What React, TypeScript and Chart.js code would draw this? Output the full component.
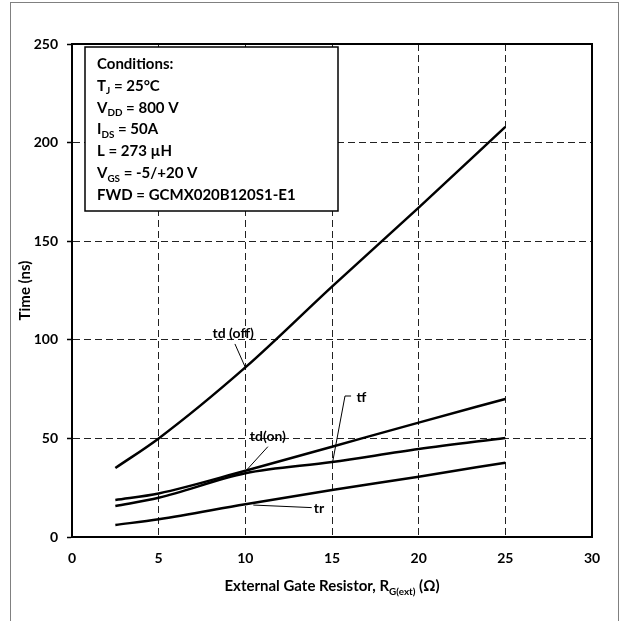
import React, { useEffect, useRef } from "react";
import { Chart, registerables } from "chart.js";

Chart.register(...registerables);

// ---- data ----
const rg = [2.5, 5, 10, 15, 20, 25];
const tdOff = [35, 50, 86, 127, 167, 208];
const tdOn = [18.8, 22.1, 33.6, 45.8, 58, 70];
const tf = [15.7, 19.9, 32.3, 38, 44.6, 50.2];
const tr = [6.1, 9, 16.6, 23.8, 30.6, 37.7];
const seriesNames = ["td (off)", "td(on)", "tf", "tr"];
const xTicks = [0, 5, 10, 15, 20, 25, 30];
const yTicks = [0, 50, 100, 150, 200, 250];

type Seg = { t: string; sub?: boolean };
const conditionLines: Seg[][] = [
  [{ t: "Conditions:" }],
  [{ t: "T" }, { t: "J", sub: true }, { t: " = 25°C" }],
  [{ t: "V" }, { t: "DD", sub: true }, { t: " = 800 V" }],
  [{ t: "I" }, { t: "DS", sub: true }, { t: " = 50A" }],
  [{ t: "L = 273 µH" }],
  [{ t: "V" }, { t: "GS", sub: true }, { t: " = -5/+20 V" }],
  [{ t: "FWD = GCMX020B120S1-E1" }],
];
const xTitle: Seg[] = [
  { t: "External Gate Resistor, R" },
  { t: "G(ext)", sub: true },
  { t: " (Ω)" },
];
const yTitle = "Time (ns)";

// annotation labels with leader lines, in data coordinates
const annotations = [
  { text: "td (off)", at: [9.3, 103], path: [[9.4, 97.9], [10.02, 85.6]] },
  { text: "td(on)", at: [11.3, 51.2], path: [[11.3, 45.8], [10.08, 34.0]] },
  { text: "tf", at: [16.7, 71], path: [[16.1, 71.5], [15.75, 71.5], [15.04, 38.2]] },
  { text: "tr", at: [14.25, 14.7], path: [[13.83, 14.9], [10.46, 16.2]] },
];

const FAMILY = "Lato, 'Liberation Sans', sans-serif";
const W = "bold";

function richWidth(ctx: CanvasRenderingContext2D, segs: Seg[], size: number) {
  let w = 0;
  for (const s of segs) {
    ctx.font = `${W} ${s.sub ? size * 0.66 : size}px ${FAMILY}`;
    w += ctx.measureText(s.t).width;
  }
  return w;
}
function drawRich(ctx: CanvasRenderingContext2D, x: number, y: number, segs: Seg[], size: number) {
  let cx = x;
  for (const s of segs) {
    const fs = s.sub ? size * 0.66 : size;
    ctx.font = `${W} ${fs}px ${FAMILY}`;
    ctx.fillText(s.t, cx, s.sub ? y + size * 0.24 : y);
    cx += ctx.measureText(s.t).width;
  }
}

const overlay = {
  id: "overlay",
  afterDraw(chart: any) {
    const ctx: CanvasRenderingContext2D = chart.ctx;
    const { left, top, right, bottom } = chart.chartArea;
    const xs = chart.scales.x;
    const ys = chart.scales.y;
    ctx.save();
    // plot frame
    ctx.strokeStyle = "#000";
    ctx.lineWidth = 2;
    ctx.setLineDash([]);
    ctx.strokeRect(left, top, right - left, bottom - top);

    // conditions box
    const bx = left + 13, by = top + 3, bw = 253, bh = 164;
    ctx.fillStyle = "#fff";
    ctx.fillRect(bx, by, bw, bh);
    ctx.lineWidth = 1.5;
    ctx.strokeRect(bx, by, bw, bh);
    ctx.fillStyle = "#000";
    ctx.textAlign = "left";
    ctx.textBaseline = "alphabetic";
    conditionLines.forEach((line, i) => {
      drawRich(ctx, bx + 12, by + 22 + i * 21.8, line, 15);
    });

    // annotations
    ctx.lineWidth = 1;
    ctx.strokeStyle = "#000";
    annotations.forEach((a) => {
      ctx.beginPath();
      a.path.forEach((p, i) => {
        const px = xs.getPixelForValue(p[0]);
        const py = ys.getPixelForValue(p[1]);
        if (i === 0) ctx.moveTo(px, py);
        else ctx.lineTo(px, py);
      });
      ctx.stroke();
      ctx.font = `${W} 14px ${FAMILY}`;
      ctx.textAlign = "center";
      ctx.textBaseline = "middle";
      ctx.fillText(a.text, xs.getPixelForValue(a.at[0]), ys.getPixelForValue(a.at[1]));
    });

    // axis titles
    ctx.textAlign = "left";
    ctx.textBaseline = "alphabetic";
    const tw = richWidth(ctx, xTitle, 15);
    drawRich(ctx, (left + right) / 2 - tw / 2, bottom + 54, xTitle, 15);
    ctx.save();
    ctx.translate(30, (top + bottom) / 2);
    ctx.rotate(-Math.PI / 2);
    ctx.font = `${W} 15px ${FAMILY}`;
    ctx.textAlign = "center";
    ctx.fillText(yTitle, 0, 0);
    ctx.restore();

    // outer frame
    ctx.strokeStyle = "#808080";
    ctx.lineWidth = 1;
    ctx.strokeRect(10.5, 2.5, 608, 640);
    ctx.restore();
  },
};

export default function App() {
  const ref = useRef<HTMLCanvasElement>(null);
  useEffect(() => {
    if (!ref.current) return;
    const mk = (ys: number[]) => rg.map((x, i) => ({ x, y: ys[i] }));
    const all = [tdOff, tdOn, tf, tr];
    const chart = new Chart(ref.current, {
      type: "scatter",
      data: {
        datasets: all.map((d, i) => ({
          label: seriesNames[i],
          data: mk(d),
          showLine: true,
          borderColor: "#000",
          borderWidth: 2.5,
          pointRadius: 0,
          cubicInterpolationMode: "monotone",
          fill: false,
        })),
      },
      options: {
        animation: false,
        responsive: false,
        devicePixelRatio: 1,
        layout: { padding: { top: 44, right: 28, left: 0, bottom: 0 } },
        plugins: { legend: { display: false }, tooltip: { enabled: false } },
        scales: {
          x: {
            type: "linear",
            min: 0,
            max: 30,
            afterFit: (s: any) => { s.height = 84; },
            afterBuildTicks: (s: any) => { s.ticks = xTicks.map((v) => ({ value: v })); },
            ticks: { color: "#000", font: { family: FAMILY, size: 14, weight: W }, padding: 13, maxRotation: 0 },
            grid: { color: "#222", lineWidth: 1, drawTicks: false },
            border: { display: true, color: "#000", width: 2, dash: [7, 4] },
          },
          y: {
            type: "linear",
            min: 0,
            max: 250,
            afterFit: (s: any) => { s.width = 72; },
            afterBuildTicks: (s: any) => { s.ticks = yTicks.map((v) => ({ value: v })); },
            ticks: { color: "#000", font: { family: FAMILY, size: 14, weight: W }, padding: 9 },
            grid: { color: "#222", lineWidth: 1, drawTicks: true, tickLength: 5, tickColor: "#000", tickWidth: 1.5 },
            border: { display: true, color: "#000", width: 2, dash: [7, 4] },
          },
        },
      },
      plugins: [overlay],
    } as any);
    return () => chart.destroy();
  }, []);
  return (
    <div style={{ position: "absolute", left: 0, top: 0, width: 620, height: 621, background: "#fff" }}>
      <canvas ref={ref} width={620} height={621} style={{ width: 620, height: 621, display: "block" }} />
    </div>
  );
}
